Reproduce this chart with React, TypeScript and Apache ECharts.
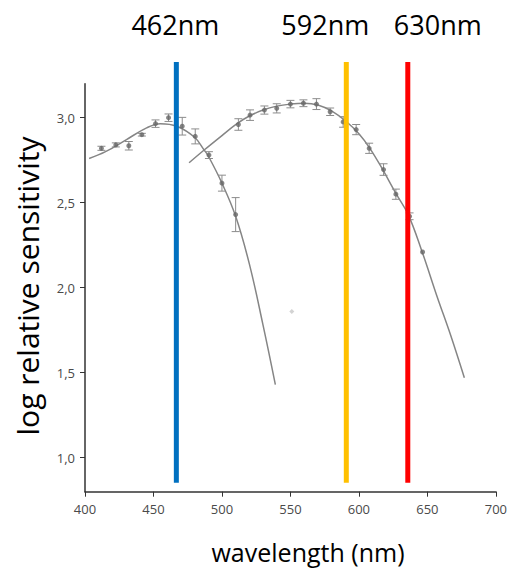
import React, { useEffect, useRef } from "react";
import * as echarts from "echarts";

// ---- data ----
// fitted curve, short-wavelength receptor
const fit1Wl = [403, 415, 430, 445, 455, 467, 480, 487, 490, 500, 510, 520, 530, 539];
const fit1Val = [2.76, 2.8, 2.87, 2.94, 2.965, 2.95, 2.885, 2.81, 2.775, 2.615, 2.42, 2.14, 1.78, 1.43];
// measured points, short-wavelength receptor
const s1Wl = [412, 422.5, 432, 441.5, 451.5, 461, 471, 480.5, 490.5, 500, 510];
const s1Val = [2.82, 2.84, 2.835, 2.9, 2.965, 3.0, 2.95, 2.89, 2.78, 2.615, 2.43];
const s1Err = [0.012, 0.012, 0.025, 0.008, 0.022, 0.022, 0.052, 0.044, 0.02, 0.047, 0.1];
// fitted curve, long-wavelength receptor
const fit2Wl = [476, 487, 500, 511, 520, 530, 540, 550, 560, 570, 580, 591, 600, 608, 617, 627, 636, 646, 657, 667, 677];
const fit2Val = [2.735, 2.81, 2.895, 2.965, 3.01, 3.045, 3.068, 3.08, 3.085, 3.075, 3.04, 2.976, 2.905, 2.82, 2.7, 2.555, 2.43, 2.215, 1.95, 1.72, 1.47];
// measured points, long-wavelength receptor
const s2Wl = [512, 520.5, 531, 540, 550, 559.5, 569, 579, 588.5, 598, 607.5, 618, 627, 637, 646.5];
const s2Val = [2.96, 3.015, 3.045, 3.055, 3.08, 3.085, 3.08, 3.035, 2.975, 2.93, 2.82, 2.695, 2.55, 2.42, 2.21];
const s2Err = [0.034, 0.031, 0.024, 0.027, 0.022, 0.02, 0.032, 0.022, 0.031, 0.03, 0.03, 0.034, 0.03, 0.02, 0];
// stray mark
const strayWl = [551];
const strayVal = [1.86];

// LED wavelength markers
const ledLabels = ["462nm", "592nm", "630nm"];
const ledWl = [466.7, 590.8, 635.7];
const ledColors = ["#0070C0", "#FFC000", "#FF0000"];
const ledLabelDx = [-1, -21, 30];
const ledBottom = 0.853;
const ledTop = 3.328;

const yTicks = [1.0, 1.5, 2.0, 2.5, 3.0];

const FONT = "'Open Sans', 'Noto Sans', sans-serif";
const zip2 = (a: number[], b: number[]) => a.map((v, i) => [v, b[i]]);
const zip3 = (a: number[], b: number[], c: number[]) => a.map((v, i) => [v, b[i], c[i]]);

function errorBars(params: any, api: any) {
  const x = api.value(0);
  const y = api.value(1);
  const e = api.value(2);
  if (!e) return { type: "group", children: [] };
  const top = api.coord([x, y + e]);
  const bot = api.coord([x, y - e]);
  const hw = 4;
  const st = { stroke: "#8c8c8c", lineWidth: 1 };
  return {
    type: "group",
    children: [
      { type: "line", shape: { x1: top[0], y1: top[1], x2: bot[0], y2: bot[1] }, style: st },
      { type: "line", shape: { x1: top[0] - hw, y1: top[1], x2: top[0] + hw, y2: top[1] }, style: st },
      { type: "line", shape: { x1: bot[0] - hw, y1: bot[1], x2: bot[0] + hw, y2: bot[1] }, style: st },
    ],
  };
}

export default function App() {
  const ref = useRef<HTMLDivElement>(null);
  useEffect(() => {
    if (!ref.current) return;
    const chart = echarts.init(ref.current, null, { renderer: "svg" });
    const ledSeries = ledWl.map((w, i) => ({
      type: "line",
      data: [
        { value: [w, ledBottom], label: { show: false } },
        {
          value: [w, ledTop],
          label: {
            show: true,
            position: "inside",
            offset: [ledLabelDx[i], -37],
            formatter: ledLabels[i],
            color: "#000",
            fontFamily: FONT,
            fontSize: 27,
          },
        },
      ],
      clip: false,
      symbol: "circle",
      symbolSize: 1,
      showSymbol: true,
      itemStyle: { color: "rgba(0,0,0,0)" },
      lineStyle: { color: ledColors[i], width: 5, cap: "butt" },
      z: 5,
      silent: true,
    }));
    chart.setOption({
      animation: false,
      backgroundColor: "#fff",
      grid: { left: 85, right: 11, top: 83.7, bottom: 78.3 },
      xAxis: {
        type: "value",
        min: 400,
        max: 700,
        interval: 50,
        splitLine: { show: false },
        axisLine: { lineStyle: { color: "#333", width: 1.5 } },
        axisTick: { show: true, length: 5, lineStyle: { color: "#333" } },
        axisLabel: { color: "#4a4a4a", fontFamily: FONT, fontSize: 13, margin: 11 },
      },
      yAxis: {
        type: "value",
        min: 0.8,
        max: 3.2,
        splitLine: { show: false },
        axisLine: { show: true, lineStyle: { color: "#333", width: 1.5 } },
        axisTick: { show: true, length: 5, customValues: yTicks, lineStyle: { color: "#333" } },
        axisLabel: {
          customValues: yTicks,
          color: "#4a4a4a",
          fontFamily: FONT,
          fontSize: 13,
          margin: 10,
          formatter: (v: number) => v.toFixed(1).replace(".", ","),
        },
      },
      graphic: [
        {
          type: "text",
          x: 308,
          y: 552,
          style: {
            text: "wavelength (nm)",
            font: `25px ${FONT}`,
            fill: "#000",
            textAlign: "center",
            textVerticalAlign: "middle",
          },
        },
        {
          type: "text",
          x: 27,
          y: 286,
          rotation: Math.PI / 2,
          style: {
            text: "log relative sensitivity",
            font: `30px ${FONT}`,
            fill: "#000",
            textAlign: "center",
            textVerticalAlign: "middle",
          },
        },
      ],
      series: [
        {
          type: "line",
          data: zip2(fit1Wl, fit1Val),
          smooth: 0.4,
          symbol: "none",
          lineStyle: { color: "#858585", width: 1.5 },
          z: 2,
        },
        {
          type: "line",
          data: zip2(fit2Wl, fit2Val),
          smooth: 0.4,
          symbol: "none",
          lineStyle: { color: "#858585", width: 1.5 },
          z: 2,
        },
        { type: "custom", renderItem: errorBars, data: zip3(s1Wl, s1Val, s1Err), z: 3 },
        { type: "custom", renderItem: errorBars, data: zip3(s2Wl, s2Val, s2Err), z: 3 },
        {
          type: "scatter",
          data: zip2(s1Wl, s1Val),
          symbol: "circle",
          symbolSize: 5,
          itemStyle: { color: "#666" },
          z: 4,
        },
        {
          type: "scatter",
          data: zip2(s2Wl, s2Val),
          symbol: "circle",
          symbolSize: 5,
          itemStyle: { color: "#666" },
          z: 4,
        },
        {
          type: "scatter",
          data: zip2(strayWl, strayVal),
          symbol: "diamond",
          symbolSize: 5,
          itemStyle: { color: "#c8c8c8" },
          z: 4,
        },
        ...ledSeries,
      ],
    });
    return () => chart.dispose();
  }, []);
  return (
    <div
      ref={ref}
      style={{ position: "fixed", left: 0, top: 0, width: 510, height: 570 }}
    />
  );
}
